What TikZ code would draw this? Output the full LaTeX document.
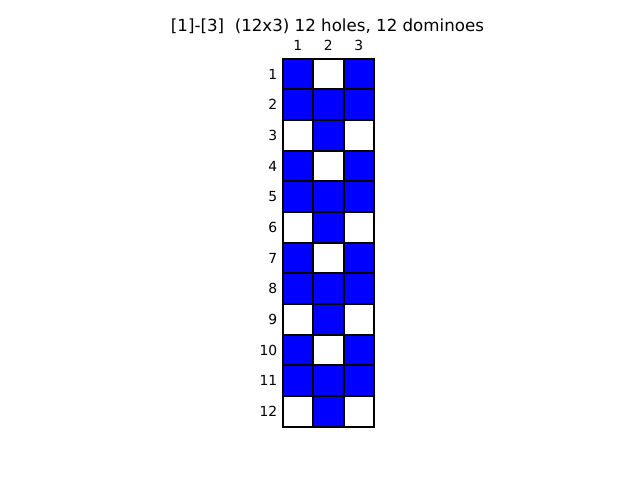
\documentclass[tikz,border=0pt]{standalone}
\usepackage{fontspec}
\setmainfont{DejaVu Sans}
\usetikzlibrary{positioning}
\tikzset{
  hole/.style = {fill=white},
  domino/.style = {fill=blue},
  cellline/.style = {draw=black, line width=1.3pt, line cap=rect},
  ticklabel/.style = {inner sep=0pt, font=\fontsize{10}{12}\selectfont},
  heading/.style = {inner sep=0pt, font=\fontsize{12}{14}\selectfont}
}

\begin{document}
\begin{tikzpicture}[x=0.72pt, y=-0.72pt]
\useasboundingbox (0,0) rectangle (640,480);

% Title
\node[heading] (title) at (327.5,26) {[1]-[3]\ \ (12x3) 12 holes, 12 dominoes};

% Board: column c, row r, edges snapped to whole pixels
\foreach \r in {1,...,12} {
  \foreach \c in {1,2,3} {
    \pgfmathtruncatemacro{\k}{mod(\r-1,3)}
    \pgfmathtruncatemacro{\isdom}{(\k==1) || (\k==0 && \c!=2) || (\k==2 && \c==2)}
    \pgfmathsetmacro{\xa}{round(282.6+(\c-1)*30.45)}
    \pgfmathsetmacro{\xb}{round(282.6+\c*30.45)}
    \pgfmathsetmacro{\ya}{round(58.6+(\r-1)*30.68)}
    \pgfmathsetmacro{\yb}{round(58.6+\r*30.68)}
    \ifnum\isdom=1
      \fill[domino] (\xa,\ya) rectangle (\xb,\yb);
    \else
      \fill[hole] (\xa,\ya) rectangle (\xb,\yb);
    \fi
  }
  % Row labels
  \node[ticklabel, anchor=east] (row\r) at ({277.5},{58.6+(\r-0.5)*30.68}) {\r};
}

% Grid lines
\foreach \r in {0,...,12} {
  \pgfmathsetmacro{\yy}{round(58.6+\r*30.68)}
  \draw[cellline] (283,\yy) -- (374,\yy);
}
\foreach \c in {0,...,3} {
  \pgfmathsetmacro{\xx}{round(282.6+\c*30.45)}
  \draw[cellline] (\xx,59) -- (\xx,427);
}

% Column labels
\foreach \c in {1,2,3}
  \node[ticklabel] (col\c) at ({282.6+(\c-0.5)*30.45},45.5) {\c};

\end{tikzpicture}
\end{document}
